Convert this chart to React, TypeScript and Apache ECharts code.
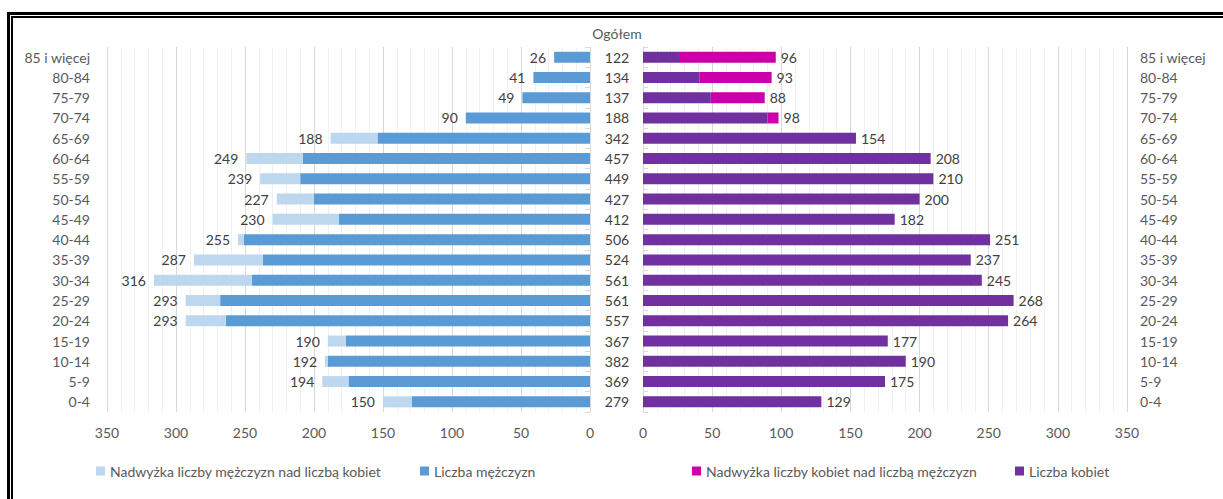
import React, { useEffect, useRef } from "react";
import * as echarts from "echarts";

const categories = [
  "85 i więcej", "80-84", "75-79", "70-74", "65-69", "60-64", "55-59", "50-54", "45-49",
  "40-44", "35-39", "30-34", "25-29", "20-24", "15-19", "10-14", "5-9", "0-4",
];
const men = [26, 41, 49, 90, 188, 249, 239, 227, 230, 255, 287, 316, 293, 293, 190, 192, 194, 150];
const women = [96, 93, 88, 98, 154, 208, 210, 200, 182, 251, 237, 245, 268, 264, 177, 190, 175, 129];
const totals = [122, 134, 137, 188, 342, 457, 449, 427, 412, 506, 524, 561, 561, 557, 367, 382, 369, 279];

const FONT = "Lato";
const AXIS_COLOR = "#595959";
const LABEL_COLOR = "#404040";

export default function App() {
  const ref = useRef<HTMLDivElement>(null);
  useEffect(() => {
    if (!ref.current) return;
    const chart = echarts.init(ref.current, null, { renderer: "svg" });
    const menBase = men.map((m, i) => Math.min(m, women[i]));
    const menExcess = men.map((m, i) => Math.max(0, m - women[i]));
    const womenBase = women.map((w, i) => Math.min(w, men[i]));
    const womenExcess = women.map((w, i) => Math.max(0, w - men[i]));

    const valueAxis = (gridIndex: number, inverse: boolean) => ({
      gridIndex,
      type: "value",
      inverse,
      min: 0,
      max: 350,
      interval: 50,
      axisLine: { show: false },
      axisTick: { show: false },
      axisLabel: { margin: 13, color: AXIS_COLOR, fontSize: 14, fontFamily: FONT },
      splitLine: { show: true, lineStyle: { color: "#D9D9D9", width: 1 } },
      minorTick: { show: false, splitNumber: 5 },
      minorSplitLine: { show: true, lineStyle: { color: "#F0F0F0", width: 1 } },
    });

    const legendItem = (name: string, left: number) => ({
      data: [name],
      left,
      top: 464,
      icon: "rect",
      itemWidth: 9,
      itemHeight: 9,
      padding: 0,
      textStyle: { color: AXIS_COLOR, fontSize: 14, fontFamily: FONT },
    });

    chart.setOption({
      animation: false,
      backgroundColor: "#ffffff",
      textStyle: { fontFamily: FONT },
      grid: [
        { left: 107, width: 483, top: 47, bottom: 87 },
        { left: 643, width: 484, top: 47, bottom: 87 },
      ],
      xAxis: [valueAxis(0, true), valueAxis(1, false)],
      yAxis: [
        {
          gridIndex: 0,
          type: "category",
          data: categories,
          inverse: true,
          position: "left",
          offset: 2,
          axisLine: { show: true, lineStyle: { color: "#D9D9D9" } },
          axisTick: { show: true, length: 5, lineStyle: { color: "#D9D9D9" } },
          axisLabel: { margin: 15, color: AXIS_COLOR, fontSize: 14, fontFamily: FONT },
        },
        {
          gridIndex: 1,
          type: "category",
          data: categories,
          inverse: true,
          position: "right",
          offset: 5,
          axisLine: { show: true, lineStyle: { color: "#D9D9D9" } },
          axisTick: { show: true, length: 5, lineStyle: { color: "#D9D9D9" } },
          axisLabel: { margin: 8, color: AXIS_COLOR, fontSize: 14, fontFamily: FONT },
        },
        {
          gridIndex: 1,
          type: "category",
          data: categories,
          inverse: true,
          position: "left",
          axisLine: { show: false },
          axisTick: { show: false },
          axisLabel: {
            margin: 26,
            align: "center",
            color: LABEL_COLOR,
            fontSize: 14,
            fontFamily: FONT,
            formatter: (_v: string, idx: number) => String(totals[idx]),
          },
        },
      ],
      legend: [
        legendItem("Nadwyżka liczby mężczyzn nad liczbą kobiet", 96),
        legendItem("Liczba mężczyzn", 420),
        legendItem("Nadwyżka liczby kobiet nad liczbą mężczyzn", 692),
        legendItem("Liczba kobiet", 1015),
      ],
      graphic: [
        { type: "rect", shape: { x: 7, y: 12, width: 3, height: 487 }, style: { fill: "#000" } },
        { type: "rect", shape: { x: 7, y: 12, width: 1216, height: 3 }, style: { fill: "#000" } },
        { type: "rect", shape: { x: 11, y: 16, width: 2, height: 483 }, style: { fill: "#000" } },
        { type: "rect", shape: { x: 11, y: 16, width: 1212, height: 2 }, style: { fill: "#000" } },
        {
          type: "text",
          x: 617,
          y: 33,
          style: {
            text: "Ogółem",
            textAlign: "center",
            textVerticalAlign: "middle",
            fontSize: 14,
            fontFamily: FONT,
            fill: AXIS_COLOR,
          },
        },
      ],
      series: [
        {
          name: "Liczba mężczyzn",
          type: "bar",
          xAxisIndex: 0,
          yAxisIndex: 0,
          stack: "m",
          barWidth: 11,
          data: menBase,
          itemStyle: { color: "#5B9BD5" },
        },
        {
          name: "Nadwyżka liczby mężczyzn nad liczbą kobiet",
          type: "bar",
          xAxisIndex: 0,
          yAxisIndex: 0,
          stack: "m",
          barWidth: 11,
          data: menExcess,
          itemStyle: { color: "#BDD7EE" },
          label: {
            show: true,
            position: "left",
            distance: 8,
            color: LABEL_COLOR,
            fontSize: 14,
            fontFamily: FONT,
            formatter: (p: any) => String(men[p.dataIndex]),
          },
        },
        {
          name: "Liczba kobiet",
          type: "bar",
          xAxisIndex: 1,
          yAxisIndex: 1,
          stack: "w",
          barWidth: 11,
          data: womenBase,
          itemStyle: { color: "#7030A0" },
        },
        {
          name: "Nadwyżka liczby kobiet nad liczbą mężczyzn",
          type: "bar",
          xAxisIndex: 1,
          yAxisIndex: 1,
          stack: "w",
          barWidth: 11,
          data: womenExcess,
          itemStyle: { color: "#CC00AA" },
          label: {
            show: true,
            position: "right",
            distance: 5,
            color: LABEL_COLOR,
            fontSize: 14,
            fontFamily: FONT,
            formatter: (p: any) => String(women[p.dataIndex]),
          },
        },
      ],
    });
    return () => chart.dispose();
  }, []);
  return (
    <div
      ref={ref}
      style={{ position: "fixed", left: 0, top: 0, width: 1223, height: 499, background: "#fff" }}
    />
  );
}
